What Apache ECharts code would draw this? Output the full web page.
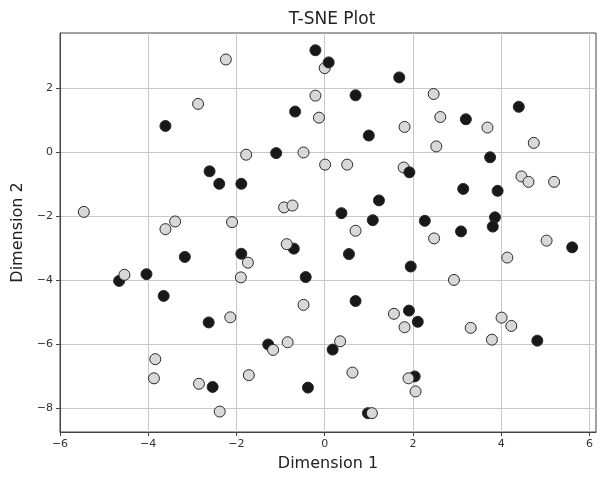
<!DOCTYPE html>
<html><head><meta charset="utf-8">
<script src="https://cdn.jsdelivr.net/npm/echarts@6/dist/echarts.min.js"></script>
<style>html,body{margin:0;padding:0;background:#fff}#c{width:606px;height:485px}</style>
</head><body><div id="c"></div>
<script>
// Class shown in black
const blackPoints = [
  [-0.21,3.20],[1.69,2.35],[0.70,1.79],[-0.67,1.28],[3.20,1.04],[4.40,1.43],[-3.61,0.83],[1.00,0.53],
  [-1.10,-0.02],[3.75,-0.15],[-2.61,-0.59],[-2.39,-0.98],[-1.89,-0.98],[3.14,-1.14],[3.92,-1.20],
  [1.23,-1.50],[0.38,-1.90],[1.09,-2.12],[2.27,-2.14],[3.86,-2.03],[3.81,-2.32],[3.09,-2.47],[5.61,-2.97],
  [-0.70,-3.01],[0.55,-3.18],[-1.89,-3.17],[-3.17,-3.27],[1.95,-3.57],[-4.66,-4.02],[-4.04,-3.81],
  [-0.43,-3.90],[-3.65,-4.49],[0.70,-4.65],[1.91,-4.95],[-2.63,-5.32],[2.11,-5.30],[4.82,-5.89],
  [-1.28,-6.01],[0.18,-6.17],[-2.54,-7.34],[-0.38,-7.36],[2.04,-7.01],[0.98,-8.16]
];
// Black points drawn above their light neighbours
const blackTopPoints = [[0.09,2.82],[1.92,-0.62]];
// Class shown in light grey
const greyPoints = [
  [-2.24,2.91],[0.00,2.64],[2.47,1.83],[-2.87,1.52],[-0.21,1.78],[-0.13,1.09],[2.62,1.11],[1.81,0.80],
  [3.69,0.78],[2.53,0.19],[4.74,0.30],[-1.78,-0.07],[-0.48,0.00],[0.01,-0.38],[0.51,-0.38],[1.79,-0.47],
  [4.46,-0.75],[4.62,-0.92],[5.20,-0.92],[-5.46,-1.86],[-0.92,-1.72],[-0.73,-1.66],[-3.39,-2.16],
  [-3.61,-2.40],[-2.10,-2.18],[0.70,-2.45],[2.48,-2.69],[5.03,-2.76],[-0.86,-2.87],[-1.74,-3.45],
  [4.14,-3.29],[-4.54,-3.83],[-1.90,-3.91],[2.93,-3.99],[-0.48,-4.77],[1.57,-5.05],[-2.14,-5.16],
  [1.81,-5.47],[3.31,-5.49],[4.01,-5.17],[4.23,-5.43],[3.79,-5.86],[-1.17,-6.18],[-0.84,-5.94],
  [0.35,-5.91],[-3.84,-6.47],[-3.87,-7.07],[-2.85,-7.24],[-1.72,-6.97],[0.63,-6.89],[1.90,-7.07],
  [2.06,-7.48],[-2.38,-8.11],[1.07,-8.16]
];
const xRange = [-6.0, 6.15];
const yRange = [-8.75, 3.74];
const xTicks = [-6, -4, -2, 0, 2, 4, 6];
const yTicks = [-8, -6, -4, -2, 0, 2];
const titleText = 'T-SNE Plot';
const xName = 'Dimension 1';
const yName = 'Dimension 2';

const font = 'DejaVu Sans';
const fmt = v => String(v).replace('-', '\u2212');
function axis(range, ticks, name, gap){
  return {
    type:'value', min:range[0], max:range[1], splitNumber:6, minInterval:2, maxInterval:2,
    name:name, nameLocation:'middle', nameGap:gap,
    nameTextStyle:{fontFamily:font, fontSize:16, color:'#222'},
    axisLine:{show:true, onZero:false, lineStyle:{color:'#444', width:1}},
    axisTick:{show:true, length:4, lineStyle:{color:'#444'}, customValues:ticks},
    axisLabel:{fontFamily:font, fontSize:11, color:'#333', formatter:fmt, margin:7, customValues:ticks},
    splitLine:{show:true, lineStyle:{color:'#c8c8c8', width:1}}
  };
}
const sym = (fill) => ({color:fill, borderColor:'#2a2a2a', borderWidth:1, opacity:1});
const chart = echarts.init(document.getElementById('c'));
chart.setOption({
  animation:false,
  backgroundColor:'#fff',
  title:{text:titleText, left:327, textAlign:'center', top:6,
    textStyle:{fontFamily:font, fontSize:17, fontWeight:'normal', color:'#222'}},
  grid:{left:60, right:10, top:33, bottom:53, show:true, borderColor:'#444', borderWidth:1},
  xAxis:axis(xRange, xTicks, xName, 24),
  yAxis:axis(yRange, yTicks, yName, 34),
  series:[
    {type:'scatter', data:blackPoints, symbolSize:11, itemStyle:sym('#181818'), z:2},
    {type:'scatter', data:greyPoints, symbolSize:11, itemStyle:sym('#d8d8d8'), z:3},
    {type:'scatter', data:blackTopPoints, symbolSize:11, itemStyle:sym('#181818'), z:4}
  ]
});
</script></body></html>
